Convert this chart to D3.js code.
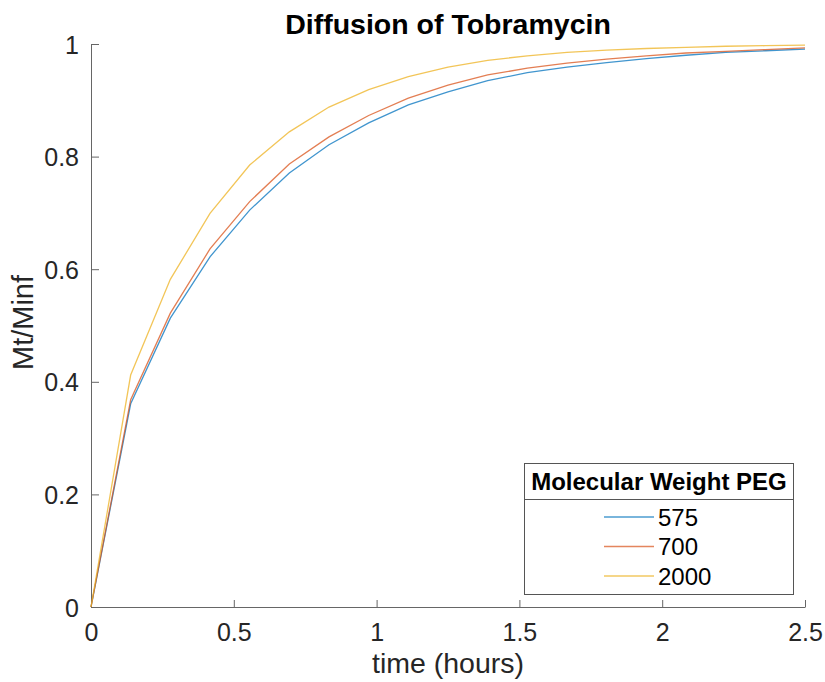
<!DOCTYPE html>
<html>
<head>
<meta charset="utf-8">
<script src="https://cdn.jsdelivr.net/npm/d3@7"></script>
<style>
  body { margin: 0; background: #fff; }
  svg { display: block; font-family: "Liberation Sans", Arial, Helvetica, sans-serif; }
</style>
</head>
<body>
<svg id="chart" width="825" height="682"></svg>
<script>
// data
const hours = d3.range(19).map(k => k * 2.5 / 18);
const peg575 = [0, 0.361, 0.513, 0.622, 0.705, 0.771, 0.821, 0.860, 0.892, 0.915,
  0.935, 0.949, 0.959, 0.967, 0.974, 0.980, 0.985, 0.988, 0.991];
const peg700 = [0, 0.368, 0.522, 0.636, 0.720, 0.787, 0.835, 0.873, 0.904, 0.927,
  0.945, 0.957, 0.966, 0.973, 0.979, 0.984, 0.987, 0.990, 0.993];
const peg2000 = [0, 0.412, 0.582, 0.699, 0.785, 0.844, 0.888, 0.919, 0.942, 0.959,
  0.971, 0.979, 0.985, 0.989, 0.992, 0.994, 0.996, 0.997, 0.998];
const seriesNames = ['575', '700', '2000'];
const xTicks = [0, 0.5, 1, 1.5, 2, 2.5];
const yTicks = [0, 0.2, 0.4, 0.6, 0.8, 1];

const colors = ['#0072BD', '#D95319', '#EDB120'];
const series = [peg575, peg700, peg2000];

const plotL = 91, plotR = 805, plotT = 44, plotB = 607;
const svg = d3.select('#chart');

const x = d3.scaleLinear().domain([0, 2.5]).range([plotL, plotR]);
const y = d3.scaleLinear().domain([0, 1]).range([plotB, plotT]);

// axes, ticks pointing inward
const xAxis = svg.append('g')
  .attr('transform', `translate(0,${plotB})`)
  .call(d3.axisBottom(x).tickValues(xTicks).tickFormat(d3.format('~g'))
    .tickSizeInner(-7).tickSizeOuter(0).tickPadding(16));
const yAxis = svg.append('g')
  .attr('transform', `translate(${plotL},0)`)
  .call(d3.axisLeft(y).tickValues(yTicks).tickFormat(d3.format('~g'))
    .tickSizeInner(-8).tickSizeOuter(0).tickPadding(12));

[xAxis, yAxis].forEach(g => {
  g.select('.domain').attr('stroke', '#666').attr('stroke-width', 1);
  g.selectAll('.tick line').attr('stroke', '#666');
  g.selectAll('.tick text').attr('fill', '#262626')
    .style('font-size', '25px');
  g.attr('font-family', null).attr('font-size', null);
});
xAxis.selectAll('.tick text').attr('dy', '0.71em');
yAxis.selectAll('.tick text').attr('dy', '0.36em');

// lines
const line = d3.line().x((d, i) => x(hours[i])).y(d => y(d));
svg.append('g').selectAll('path')
  .data(series)
  .enter()
  .append('path')
  .attr('d', line)
  .attr('fill', 'none')
  .attr('stroke', (d, i) => colors[i])
  .attr('stroke-width', 1.3)
  .attr('stroke-opacity', 0.75);

// title & labels
svg.append('text')
  .attr('x', (plotL + plotR) / 2).attr('y', 34)
  .attr('text-anchor', 'middle')
  .style('font-size', '28.5px').style('font-weight', 'bold')
  .attr('fill', '#000')
  .text('Diffusion of Tobramycin');

svg.append('text')
  .attr('x', (plotL + plotR) / 2).attr('y', 673)
  .attr('text-anchor', 'middle')
  .style('font-size', '28.5px')
  .attr('fill', '#262626')
  .text('time (hours)');

svg.append('text')
  .attr('transform', `translate(33,${(plotT + plotB) / 2 - 3}) rotate(-90)`)
  .attr('text-anchor', 'middle')
  .style('font-size', '29px')
  .attr('fill', '#262626')
  .text('Mt/Minf');

// legend
const lg = svg.append('g');
lg.append('rect')
  .attr('x', 524.5).attr('y', 463.5).attr('width', 269).attr('height', 131)
  .attr('fill', '#fff').attr('stroke', '#555').attr('stroke-width', 1);
lg.append('line')
  .attr('x1', 524.5).attr('x2', 793.5).attr('y1', 499.5).attr('y2', 499.5)
  .attr('stroke', '#555');
lg.append('text')
  .attr('x', 659).attr('y', 490)
  .attr('text-anchor', 'middle')
  .style('font-size', '24px').style('font-weight', 'bold')
  .attr('fill', '#000')
  .text('Molecular Weight PEG');

const entries = lg.selectAll('g.entry')
  .data(seriesNames)
  .enter()
  .append('g')
  .attr('class', 'entry')
  .attr('transform', (d, i) => `translate(0,${517 + i * 29.5})`);
entries.append('line')
  .attr('x1', 604).attr('x2', 654)
  .attr('stroke', (d, i) => colors[i]).attr('stroke-width', 1.3)
  .attr('stroke-opacity', 0.7);
entries.append('text')
  .attr('x', 658).attr('dy', '0.36em')
  .style('font-size', '24px')
  .attr('fill', '#000')
  .text(d => d);
</script>
</body>
</html>
